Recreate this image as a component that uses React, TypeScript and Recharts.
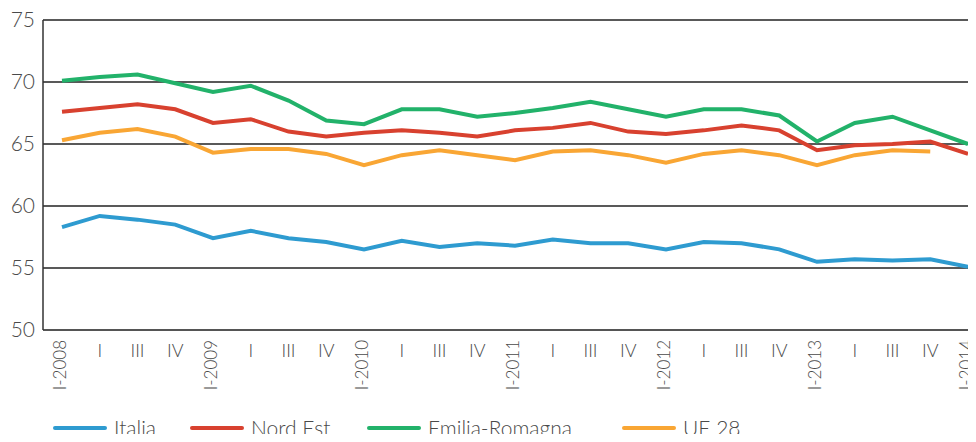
import { LineChart, Line, XAxis, YAxis, CartesianGrid } from "recharts";

// quarters I-2008 .. I-2014
const quarters = [
  "I-2008", "I", "III", "IV",
  "I-2009", "I", "III", "IV",
  "I-2010", "I", "III", "IV",
  "I-2011", "I", "III", "IV",
  "I-2012", "I", "III", "IV",
  "I-2013", "I", "III", "IV",
  "I-2014",
];

const italia = [
  58.3, 59.2, 58.9, 58.5, 57.4, 58.0, 57.4, 57.1, 56.5, 57.2, 56.7, 57.0,
  56.8, 57.3, 57.0, 57.0, 56.5, 57.1, 57.0, 56.5, 55.5, 55.7, 55.6, 55.7, 55.1,
];
const nordEst = [
  67.6, 67.9, 68.2, 67.8, 66.7, 67.0, 66.0, 65.6, 65.9, 66.1, 65.9, 65.6,
  66.1, 66.3, 66.7, 66.0, 65.8, 66.1, 66.5, 66.1, 64.5, 64.9, 65.0, 65.2, 64.2,
];
const emiliaRomagna = [
  70.1, 70.4, 70.6, 69.9, 69.2, 69.7, 68.5, 66.9, 66.6, 67.8, 67.8, 67.2,
  67.5, 67.9, 68.4, 67.8, 67.2, 67.8, 67.8, 67.3, 65.2, 66.7, 67.2, 66.1, 65.0,
];
const ue28 = [
  65.3, 65.9, 66.2, 65.6, 64.3, 64.6, 64.6, 64.2, 63.3, 64.1, 64.5, 64.1,
  63.7, 64.4, 64.5, 64.1, 63.5, 64.2, 64.5, 64.1, 63.3, 64.1, 64.5, 64.4, null,
];

const yTicks = [50, 55, 60, 65, 70, 75];

const series = [
  { key: "italia", name: "Italia", color: "#2e9bd0", legendX: 53 },
  { key: "nordEst", name: "Nord Est", color: "#d8412f", legendX: 190 },
  { key: "emiliaRomagna", name: "Emilia-Romagna", color: "#22b26a", legendX: 367 },
  { key: "ue28", name: "UE 28", color: "#f9a634", legendX: 622 },
];

const data = quarters.map((q, i) => ({
  q: `${q}#${i}`,
  italia: italia[i],
  nordEst: nordEst[i],
  emiliaRomagna: emiliaRomagna[i],
  ue28: ue28[i],
}));

const FONT = "Lato, 'Open Sans', sans-serif";
const TEXT = "#4a4a4a";

const YTick = (props: any) => {
  const { y, payload } = props;
  return (
    <text x={35} y={y} dy={7} textAnchor="end" fontSize={21} fill={TEXT} fontFamily={FONT} fontWeight={300}>
      {payload.value}
    </text>
  );
};

const XTick = (props: any) => {
  const { x, payload } = props;
  const label = String(payload.value).split("#")[0];
  if (label.includes("-")) {
    return (
      <text
        x={x}
        y={340}
        dy={4}
        textAnchor="end"
        transform={`rotate(-90, ${x}, 340)`}
        fontSize={17}
        fill={TEXT}
        fontFamily={FONT}
        fontWeight={300}
      >
        {label}
      </text>
    );
  }
  return (
    <text x={x} y={357} textAnchor="middle" fontSize={18} fill={TEXT} fontFamily={FONT} fontWeight={300}>
      {label}
    </text>
  );
};

export default function App() {
  return (
    <div style={{ position: "relative", margin: -8, width: 976, height: 442, background: "#fff" }}>
      <LineChart width={976} height={442} data={data} margin={{ top: 20, right: 0, left: 0, bottom: 40 }}>
        <CartesianGrid vertical={false} stroke="#222" strokeWidth={1.5} />
        <XAxis
          dataKey="q"
          interval={0}
          tick={<XTick />}
          tickLine={false}
          axisLine={{ stroke: "#555", strokeWidth: 2 }}
          padding={{ left: 19, right: 8 }}
          height={72}
        />
        <YAxis
          domain={[50, 75]}
          ticks={yTicks}
          width={43}
          tick={<YTick />}
          tickLine={false}
          axisLine={{ stroke: "#333", strokeWidth: 1.5 }}
        />
        {series.map((s) => (
          <Line
            key={s.key}
            dataKey={s.key}
            name={s.name}
            stroke={s.color}
            strokeWidth={4}
            dot={false}
            type="linear"
            isAnimationActive={false}
          />
        ))}
      </LineChart>
      {series.map((s) => (
        <div
          key={s.key}
          style={{
            position: "absolute",
            left: s.legendX,
            top: 416,
            height: 24,
            display: "flex",
            alignItems: "center",
            whiteSpace: "nowrap",
            fontFamily: FONT,
            fontWeight: 300,
          }}
        >
          <div style={{ width: 54, height: 4, borderRadius: 2, background: s.color, marginRight: 7 }} />
          <span style={{ fontSize: 21, lineHeight: "24px", color: TEXT }}>{s.name}</span>
        </div>
      ))}
    </div>
  );
}
